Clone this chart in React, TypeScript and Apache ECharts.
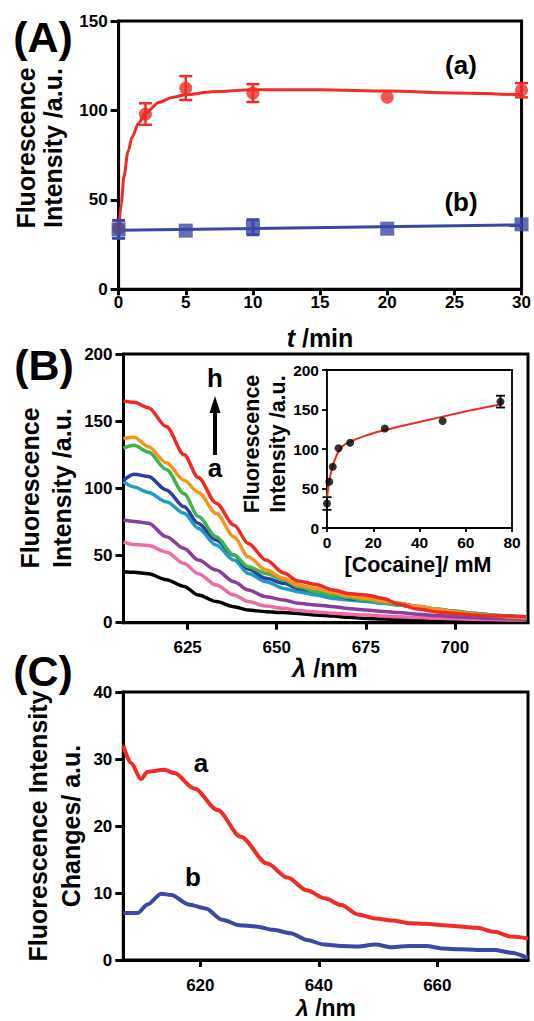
import React, { useEffect, useRef } from 'react';
import * as echarts from 'echarts';

const FONT = '"Liberation Sans", Arial, Helvetica, sans-serif';
const RED = '#ee2d26';
const BLUE = '#3b48a6';

// ---------- Panel A ----------
const timeRedA = [0, 2, 5, 10, 20, 30];
const redA = [34, 98, 112.5, 109.7, 107.4, 111.3];
const redAErr = [0, 6, 6.7, 5, 0, 4];
const redFitT = [0, 0.2, 0.4, 0.7, 1, 1.5, 2, 3, 4, 5, 7, 10, 15, 20, 25, 30];
const redFitV = [32, 48, 63, 77, 85, 93, 98.6, 104.5, 107.3, 108.8, 110.5, 111.5, 111.5, 110.8, 109.8, 108.7];
const timeBlueA = [0, 5, 10, 20, 30];
const blueA = [33.5, 32.8, 34.7, 33.9, 36.3];
const blueAErr = [5, 0, 4.2, 0, 0];
const blueFitT = [0, 30];
const blueFitV = [33, 36];

// ---------- Panel B ----------
const wlB = [607, 610, 614, 619, 624, 628, 633, 638, 642, 647, 652, 656, 661, 666, 670, 675, 680, 684, 690, 695, 700, 705, 710, 715, 720];
const specA = [38, 37.5, 36.4, 32, 27, 20.6, 15.7, 11.9, 9.4, 8.2, 7.5, 6.9, 5.8, 4.9, 4, 3.2, 2.8, 2.5, 2.2, 2, 1.8, 1.6, 1.4, 1.3, 1.2];
const specB = [60, 58.2, 57.5, 52.6, 44, 36.5, 28, 20.6, 15.7, 12.4, 10.7, 9, 8, 7, 6.3, 5.7, 5, 4.4, 3.8, 3.3, 2.9, 2.6, 2.3, 2.1, 2];
const specC = [76.4, 75.4, 74, 64, 55.3, 46.6, 39.2, 30.5, 24.3, 19.3, 16.9, 14.4, 13.2, 11.9, 10.6, 9.4, 8.4, 7.5, 6.3, 5.3, 4.5, 3.8, 3.3, 2.9, 2.6];
const specD = [105, 101, 97, 90, 81.4, 70.2, 57.8, 46.6, 36.7, 30.5, 25.5, 23, 20.6, 18.1, 16.9, 15.7, 14.4, 13.2, 11, 9.2, 7.8, 6.5, 5.4, 4.5, 3.8];
const specE = [106, 110.5, 108.8, 98.8, 86.3, 73.9, 61.5, 50.3, 40, 33, 29.3, 25.5, 23, 20.6, 18.1, 16.9, 15.6, 14.4, 12, 10, 8.5, 7, 5.8, 4.8, 4];
const specF = [130, 132, 127, 114, 96, 79, 64, 50.3, 41.6, 36.7, 31.7, 26.8, 23, 20.6, 18.8, 16.9, 15, 13.2, 11.5, 10, 8.5, 7, 5.8, 4.8, 4];
const specG = [137, 138, 131, 119, 106, 97, 81.4, 64, 49, 39.2, 33, 28, 25.5, 22.3, 20, 18, 16, 14.4, 12, 10, 8, 6.5, 5.2, 4.3, 3.5];
const specH = [165, 164, 160, 146, 125, 108, 89, 72.7, 59, 46.6, 37, 31, 28.5, 24.3, 21.8, 20.6, 18, 14, 10, 8, 6.8, 5.7, 5, 5, 4.5];
const specColors = ['#000000', '#f06aa6', '#8a3d9c', '#1f9cc6', '#2e3d9e', '#3db54a', '#f7941d', '#ee2a24'];
const bTicks = [625, 650, 675, 700];

// ---------- Inset ----------
const cocaine = [0, 1, 2.5, 5, 10, 25, 50, 75];
const cocaineInt = [31, 58.5, 77.5, 101, 108, 126, 135.5, 160];
const cocaineErr = [8, 0, 0, 0, 0, 0, 0, 7.5];
const fitConc = [0, 0.5, 1, 1.5, 2, 3, 4, 5, 6, 7, 8.5, 10, 12.5, 15, 20, 25, 30, 37.5, 50, 63, 76];
const fitInt = [38, 50, 60, 67, 73, 83, 91, 97, 101, 104, 107, 109, 112.5, 115, 120, 124, 127.5, 132.5, 141, 149.5, 157];

// ---------- Panel C ----------
const wlCa = [607, 608.3, 610, 611.1, 613.9, 615.6, 619, 622.9, 626.8, 631.3, 634.7, 638, 641, 643.8, 646.6, 649.5, 652.4, 655.2, 658.1, 661, 663.8, 666.7, 669.6, 672.4, 675.3];
const changeA = [32, 29.4, 27, 28.1, 28.4, 27.9, 25.6, 22.4, 18.4, 14.4, 12.3, 10.4, 9.2, 8.2, 6.8, 6.2, 5.9, 5.5, 5.4, 5.2, 5, 4.8, 4.2, 3.5, 3.2];
const wlCb = [607, 609.4, 611.1, 613.4, 615.1, 618, 620.9, 623.7, 626.6, 629.4, 632.3, 635.2, 638, 640.9, 643.8, 646.6, 649.5, 652.4, 655.2, 658.1, 661, 663.8, 666.7, 669.6, 672.4, 675.3];
const changeB = [7, 7, 8.3, 9.9, 9.7, 8.3, 7.7, 6, 5.2, 5, 4.5, 4, 3, 2.3, 2.1, 2, 2.3, 1.9, 2.1, 2.1, 1.7, 1.6, 1.5, 1.5, 1.1, 0.3];
const cTicks = [620, 640, 660];

const zip = (xs: number[], ys: number[]) => xs.map((x, i) => [x, ys[i]]);

function errorBars(gi: number, xs: number[], ys: number[], errs: number[], color: string, cap: number, lw: number) {
  return {
    type: 'custom',
    xAxisIndex: gi,
    yAxisIndex: gi,
    encode: { x: 0, y: 1 },
    z: 4,
    silent: true,
    data: xs.map((x, i) => [x, ys[i], errs[i]]).filter((d) => d[2] > 0),
    renderItem: (_p: any, api: any) => {
      const x = api.value(0);
      const y = api.value(1);
      const e = api.value(2);
      const a = api.coord([x, y + e]);
      const b = api.coord([x, y - e]);
      const style = { stroke: color, lineWidth: lw };
      return {
        type: 'group',
        children: [
          { type: 'line', shape: { x1: a[0], y1: a[1], x2: b[0], y2: b[1] }, style },
          { type: 'line', shape: { x1: a[0] - cap, y1: a[1], x2: a[0] + cap, y2: a[1] }, style },
          { type: 'line', shape: { x1: b[0] - cap, y1: b[1], x2: b[0] + cap, y2: b[1] }, style },
        ],
      };
    },
  };
}

function txt(x: number, y: number, text: string, size: number, rotate = false, extra: any = {}) {
  return {
    type: 'text',
    x,
    y,
    rotation: rotate ? Math.PI / 2 : 0,
    z: 10,
    style: {
      text,
      fill: '#000',
      fontFamily: FONT,
      fontWeight: 'bold',
      fontSize: size,
      align: 'center',
      verticalAlign: 'middle',
      textAlign: 'center',
      textVerticalAlign: 'middle',
      ...extra,
    },
  };
}

export default function App() {
  const ref = useRef<HTMLDivElement>(null);

  useEffect(() => {
    document.body.style.margin = '0';
    if (!ref.current) return;
    const chart = echarts.init(ref.current, undefined, { renderer: 'svg' });

    const lbl = (size: number, margin: number) => ({
      show: true,
      color: '#000',
      fontFamily: FONT,
      fontWeight: 'bold',
      fontSize: size,
      margin,
    });
    const line = (w: number) => ({ show: true, onZero: false, lineStyle: { color: '#000', width: w } });
    const tick = (len: number, w: number) => ({ show: true, inside: false, length: len, lineStyle: { color: '#000', width: w } });

    const grids = [
      { left: 118.6, top: 21, width: 404, height: 268.3 },
      { left: 123.5, top: 354, width: 404.5, height: 268.7 },
      { left: 327, top: 370, width: 185, height: 158 },
      { left: 123.3, top: 692, width: 404.7, height: 268 },
    ].map((g, i) => ({
      ...g,
      show: true,
      borderColor: '#000',
      borderWidth: i === 2 ? 1.8 : 3,
      backgroundColor: i === 2 ? '#fff' : 'transparent',
      containLabel: false,
      z: i === 2 ? 5 : 0,
    }));

    const xAxis: any[] = [
      { gridIndex: 0, type: 'value', min: 0, max: 30, interval: 5, axisLine: line(3), axisTick: tick(6, 3), axisLabel: lbl(17, 5), splitLine: { show: false } },
      {
        gridIndex: 1, type: 'value', min: 607, max: 720.5, axisLine: line(3), axisTick: { ...tick(7, 3), customValues: bTicks },
        axisLabel: { ...lbl(17, 16), customValues: bTicks }, splitLine: { show: false },
      },
      { gridIndex: 2, type: 'value', min: 0, max: 80, interval: 20, axisLine: line(1.8), axisTick: tick(4, 1.8), axisLabel: lbl(15.5, 6), splitLine: { show: false } },
      {
        gridIndex: 3, type: 'value', min: 607, max: 675.3, axisLine: line(3), axisTick: { ...tick(7, 3), customValues: cTicks },
        axisLabel: { ...lbl(17, 17), customValues: cTicks }, splitLine: { show: false },
      },
    ];
    const yAxis: any[] = [
      { gridIndex: 0, type: 'value', min: 0, max: 150, interval: 50, axisLine: line(3), axisTick: tick(8, 3), axisLabel: lbl(17, 11), splitLine: { show: false } },
      { gridIndex: 1, type: 'value', min: 0, max: 200, interval: 50, axisLine: line(3), axisTick: tick(8, 3), axisLabel: lbl(17, 11), splitLine: { show: false } },
      { gridIndex: 2, type: 'value', min: 0, max: 200, interval: 50, axisLine: line(1.8), axisTick: tick(5, 1.8), axisLabel: lbl(15.5, 8), splitLine: { show: false } },
      { gridIndex: 3, type: 'value', min: 0, max: 40, interval: 10, axisLine: line(3), axisTick: tick(8, 3), axisLabel: lbl(17, 11), splitLine: { show: false } },
    ];

    const specs = [specA, specB, specC, specD, specE, specF, specG, specH];
    const specSeries = specs.map((s, i) => ({
      type: 'line',
      xAxisIndex: 1,
      yAxisIndex: 1,
      data: zip(wlB, s),
      showSymbol: false,
      smooth: 0.3,
      smoothMonotone: 'x',
      lineStyle: { color: specColors[i], width: 3.5 },
      z: 2 + i * 0.01,
      silent: true,
    }));

    const series: any[] = [
      // Panel A
      { type: 'line', xAxisIndex: 0, yAxisIndex: 0, data: zip(redFitT, redFitV), showSymbol: false, smooth: 0.3, smoothMonotone: 'x', lineStyle: { color: RED, width: 3 }, z: 2, silent: true },
      { type: 'line', xAxisIndex: 0, yAxisIndex: 0, data: zip(blueFitT, blueFitV), showSymbol: false, lineStyle: { color: BLUE, width: 3 }, z: 2, silent: true },
      errorBars(0, timeRedA, redA, redAErr, RED, 6.5, 2.5),
      errorBars(0, timeBlueA, blueA, blueAErr, BLUE, 6.5, 3),
      { type: 'scatter', xAxisIndex: 0, yAxisIndex: 0, data: zip(timeRedA, redA), symbol: 'circle', symbolSize: 13, itemStyle: { color: RED }, z: 5, silent: true },
      { type: 'scatter', xAxisIndex: 0, yAxisIndex: 0, data: zip(timeBlueA, blueA), symbol: 'rect', symbolSize: 14, itemStyle: { color: BLUE }, z: 5, silent: true },
      // Panel B
      ...specSeries,
      // Inset
      { type: 'line', xAxisIndex: 2, yAxisIndex: 2, data: zip(fitConc, fitInt), showSymbol: false, smooth: 0.2, lineStyle: { color: '#ee2a24', width: 2 }, z: 6, silent: true },
      { ...errorBars(2, cocaine, cocaineInt, cocaineErr, '#000', 4.5, 1.8), z: 7 },
      { type: 'scatter', xAxisIndex: 2, yAxisIndex: 2, data: zip(cocaine, cocaineInt), symbol: 'circle', symbolSize: 8, itemStyle: { color: '#000' }, z: 8, silent: true },
      // Panel C
      { type: 'line', xAxisIndex: 3, yAxisIndex: 3, data: zip(wlCa, changeA), showSymbol: false, smooth: 0.3, smoothMonotone: 'x', lineStyle: { color: RED, width: 4 }, z: 2, silent: true },
      { type: 'line', xAxisIndex: 3, yAxisIndex: 3, data: zip(wlCb, changeB), showSymbol: false, smooth: 0.3, smoothMonotone: 'x', lineStyle: { color: BLUE, width: 4 }, z: 2, silent: true },
    ];

    const rich = (s: number) => ({
      i: { fontStyle: 'italic', fontWeight: 'bold', fontFamily: FONT, fontSize: s, fill: '#000' },
      n: { fontWeight: 'bold', fontFamily: FONT, fontSize: s, fill: '#000' },
    });

    const graphic: any[] = [
      // Panel labels
      txt(43, 37, '(A)', 43),
      txt(44, 365, '(B)', 43),
      txt(43, 671, '(C)', 43),
      // Panel A titles
      txt(26, 148, 'Fluorescence', 25, true),
      txt(53, 148, 'Intensity /a.u.', 25, true),
      txt(320, 338, '{i|t}{n| /min}', 25, false, { rich: rich(25) }),
      txt(461, 65, '(a)', 26),
      txt(461, 202, '(b)', 26),
      // Panel B titles
      txt(30, 488, 'Fluorescence', 25, true),
      txt(62, 488, 'Intensity /a.u.', 25, true),
      txt(325, 668, '{i|λ}{n| /nm}', 25, false, { rich: rich(25) }),
      txt(215, 378, 'h', 26),
      txt(215, 468, 'a', 26),
      { type: 'line', z: 10, shape: { x1: 215, y1: 455, x2: 215, y2: 410 }, style: { stroke: '#000', lineWidth: 4 } },
      { type: 'polygon', z: 10, shape: { points: [[215, 396], [209.5, 413], [220.5, 413]] }, style: { fill: '#000' } },
      // Inset titles
      txt(252, 444, 'Fluorescence', 21.5, true),
      txt(278, 444, 'Intensity /a.u.', 21.5, true),
      txt(418, 565, '[Cocaine]/ mM', 21.5),
      // Panel C titles
      txt(38, 826, 'Fluorescence Intensity', 25, true),
      txt(71, 826, 'Changes/ a.u.', 25, true),
      txt(326, 1008, '{i|λ}{n| /nm}', 23, false, { rich: rich(23) }),
      txt(201, 763, 'a', 26),
      txt(193, 877, 'b', 26),
    ];

    chart.setOption({
      animation: false,
      backgroundColor: '#fff',
      grid: grids,
      xAxis,
      yAxis,
      series,
      graphic,
    });

    return () => chart.dispose();
  }, []);

  return <div ref={ref} style={{ width: 534, height: 1021 }} />;
}
